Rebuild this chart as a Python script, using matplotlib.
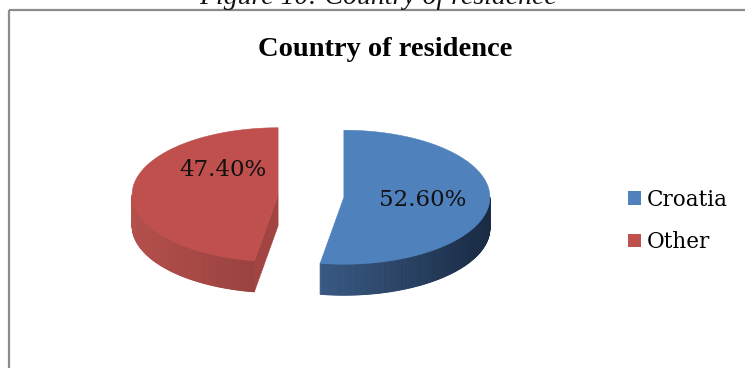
import numpy as np
import matplotlib
matplotlib.use("Agg")
import matplotlib.pyplot as plt
from matplotlib.patches import Polygon, Patch
from matplotlib.colors import to_rgb

# Data
categories = ["Croatia", "Other"]
shares = [52.60, 47.40]
top_colors = ["#4F81BD", "#C0504D"]
side_light = ["#4D79B0", "#B4504C"]
side_dark = ["#1A2B44", "#742C2A"]
wall_colors = ["#2E4B74", "#A24542"]

# Pie geometry (pixel units, y grows downward)
CX, CY = 311.0, 196.0
RX, RY = 146.0, 67.0
DEPTH = 31.0
EXPLODE = 33.0
label_radius = [0.54, 0.38]
label_lift = [0.0, 23.0]

fig = plt.figure(figsize=(7.45, 3.68), dpi=100)
ax = fig.add_axes([0, 0, 1, 1])
ax.set_xlim(0, 745)
ax.set_ylim(368, 0)
ax.axis("off")

# Chart frame
ax.plot([9, 745], [10, 10], color="#8C8C8C", lw=1.6, solid_capstyle="butt")
ax.plot([9, 9], [10, 368], color="#8C8C8C", lw=1.6, solid_capstyle="butt")

# Caption above the frame
ax.text(378, 3.5, "Figure 10: Country of residence", ha="center", va="baseline",
        fontsize=20, style="italic", family="Liberation Serif", color="#111111")

# Chart title
ax.text(385, 49, "Country of residence", ha="center", va="center",
        fontsize=20.5, fontweight="bold", family="Liberation Serif", color="#000000")


def rim(cx, cy, a_deg):
    a = np.radians(a_deg)
    return cx + RX * np.cos(a), cy - RY * np.sin(a)


def lerp_color(c0, c1, t):
    c0, c1 = np.array(to_rgb(c0)), np.array(to_rgb(c1))
    return tuple(c0 + (c1 - c0) * t)


fractions = np.array(shares) / np.sum(shares)
starts = 90 - 360 * np.concatenate([[0], np.cumsum(fractions)[:-1]])
ends = starts - 360 * fractions

for i, (name, a_start, a_end) in enumerate(zip(categories, starts, ends)):
    lo, hi = a_end, a_start
    mid = np.radians((lo + hi) / 2)
    cx = CX + EXPLODE * np.cos(mid)
    cy = CY - EXPLODE * (RY / RX) * np.sin(mid)

    # Radial walls facing the viewer
    for a_wall, normal in ((lo, lo - 90), (hi, hi + 90)):
        if np.sin(np.radians(normal)) < -1e-6:
            px, py = rim(cx, cy, a_wall)
            wall = [(cx, cy), (px, py), (px, py + DEPTH), (cx, cy + DEPTH)]
            ax.add_patch(Polygon(wall, closed=True, facecolor=wall_colors[i],
                                 edgecolor=wall_colors[i], lw=0.4, zorder=2))

    # Outer curved side (front half only)
    for k in (-1, 0, 1):
        s0, s1 = max(lo, -180 + 360 * k), min(hi, 0 + 360 * k)
        if s1 <= s0:
            continue
        steps = np.linspace(s0, s1, max(int((s1 - s0) * 2), 2))
        for a0, a1 in zip(steps[:-1], steps[1:]):
            x0, y0 = rim(cx, cy, a0)
            x1, y1 = rim(cx, cy, a1)
            t = (1 + np.cos(np.radians((a0 + a1) / 2))) / 2
            col = lerp_color(side_light[i], side_dark[i], t)
            ax.add_patch(Polygon([(x0, y0), (x1, y1), (x1, y1 + DEPTH), (x0, y0 + DEPTH)],
                                 closed=True, facecolor=col, edgecolor=col,
                                 lw=0.6, zorder=3))

    # Top face
    arc = np.linspace(lo, hi, 200)
    pts = [(cx, cy)] + [rim(cx, cy, a) for a in arc]
    ax.add_patch(Polygon(pts, closed=True, facecolor=top_colors[i],
                         edgecolor=top_colors[i], lw=0.4, zorder=4))

    # Value label
    lx = cx + label_radius[i] * RX * np.cos(mid)
    ly = cy - label_radius[i] * RY * np.sin(mid) - label_lift[i]
    ax.text(lx, ly, f"{shares[i]:.2f}%", ha="center", va="center",
            fontsize=16.5, family="DejaVu Serif", color="#111111", zorder=5)

# Legend
handles = [Patch(facecolor=c, edgecolor="none") for c in top_colors]
leg = ax.legend(handles, categories, loc="center left",
                bbox_to_anchor=(619 / 745, 1 - 221 / 368), frameon=False,
                prop={"family": "DejaVu Serif", "size": 15.5},
                handlelength=0.6, handleheight=0.6, handletextpad=0.3,
                labelspacing=0.95, borderaxespad=0)

fig.savefig("out.png", dpi=100, facecolor="white")
